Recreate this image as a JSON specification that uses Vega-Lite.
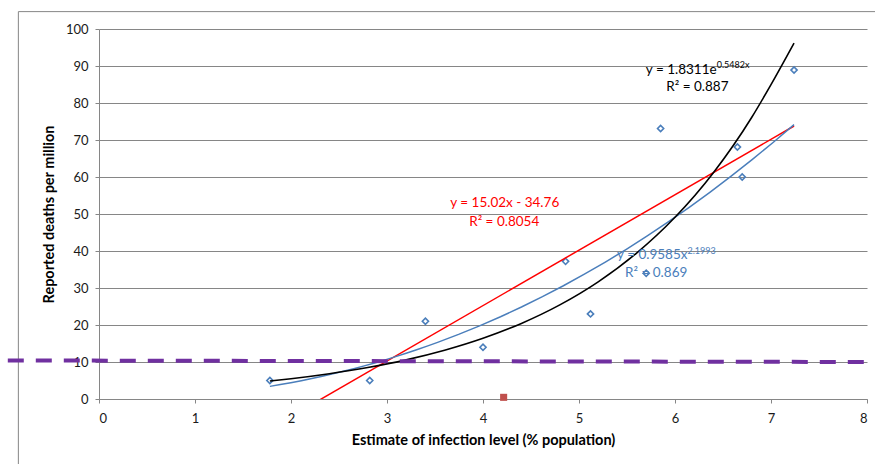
{
  "$schema": "https://vega.github.io/schema/vega-lite/v6.json",
  "width": 768,
  "height": 370,
  "autosize": {"type": "none"},
  "padding": {"left": 99, "top": 29, "right": 8, "bottom": 65},
  "background": "white",
  "config": {
    "view": {"stroke": null},
    "font": "Lato",
    "axis": {
      "labelFont": "Lato",
      "labelFontSize": 13,
      "labelColor": "#1a1a1a",
      "titleFont": "Lato",
      "titleFontSize": 14.5,
      "titleFontWeight": "bold",
      "titleColor": "#000000",
      "domainColor": "#868686",
      "tickColor": "#868686",
      "gridColor": "#868686",
      "tickSize": 4
    }
  },
  "datasets": {
    "obs": [
      {"x": 1.78, "y": 5},
      {"x": 2.82, "y": 5},
      {"x": 3.4, "y": 21},
      {"x": 4.0, "y": 14},
      {"x": 4.86, "y": 37.2},
      {"x": 5.12, "y": 23},
      {"x": 5.7, "y": 34},
      {"x": 5.85, "y": 73.1},
      {"x": 6.65, "y": 68.1},
      {"x": 6.7, "y": 60},
      {"x": 7.24, "y": 88.9}
    ],
    "marker": [{"x": 4.215, "y": 0.45}],
    "expcurve": [
      {"x": 1.78, "y": 4.86},
      {"x": 2.0, "y": 5.48},
      {"x": 2.4, "y": 6.83},
      {"x": 2.8, "y": 8.5},
      {"x": 3.2, "y": 10.58},
      {"x": 3.6, "y": 13.18},
      {"x": 4.0, "y": 16.41},
      {"x": 4.4, "y": 20.43},
      {"x": 4.8, "y": 25.44},
      {"x": 5.2, "y": 31.67},
      {"x": 5.6, "y": 39.44},
      {"x": 6.0, "y": 49.11},
      {"x": 6.4, "y": 61.16},
      {"x": 6.8, "y": 76.15},
      {"x": 7.0, "y": 84.98},
      {"x": 7.24, "y": 96.2}
    ],
    "limit": [
      {"x": -0.95, "y": 10.42},
      {"x": 7.975, "y": 10.0}
    ],
    "frame": [
      {"x": -0.84, "x2": 8.3, "y": 104.7, "y2": 104.7},
      {"x": -0.84, "x2": -0.84, "y": 104.7, "y2": -25}
    ],
    "annot": [
      {"role": "center", "series": "linear", "x": 4.226, "y": 53.0, "text": "y = 15.02x - 34.76"},
      {"role": "center", "series": "linear", "x": 4.221, "y": 47.9, "text": "R² = 0.8054"},
      {"role": "center", "series": "exp", "x": 6.233, "y": 84.3, "text": "R² = 0.887"},
      {"role": "center", "series": "pow", "x": 5.804, "y": 34.1, "text": "R² = 0.869"},
      {"role": "right", "series": "exp", "x": 6.434, "y": 88.9, "text": "y = 1.8311e"},
      {"role": "right", "series": "pow", "x": 6.13, "y": 38.98, "text": "y = 0.9585x"},
      {"role": "sup", "series": "exp", "x": 6.434, "y": 90.4, "text": "0.5482x"},
      {"role": "sup", "series": "pow", "x": 6.13, "y": 40.1, "text": "2.1993"}
    ]
  },
  "encoding": {
    "x": {
      "field": "x",
      "type": "quantitative",
      "scale": {"domain": [0, 8], "nice": false, "zero": false},
      "axis": {
        "title": "Estimate of infection level (% population)",
        "values": [0, 1, 2, 3, 4, 5, 6, 7, 8],
        "grid": false,
        "labelPadding": 9,
        "titlePadding": 8
      }
    },
    "y": {
      "field": "y",
      "type": "quantitative",
      "scale": {"domain": [0, 100], "nice": false, "zero": false},
      "axis": {
        "title": "Reported deaths per million",
        "values": [0, 10, 20, 30, 40, 50, 60, 70, 80, 90, 100],
        "grid": true,
        "labelPadding": 7,
        "titlePadding": 9
      }
    }
  },
  "layer": [
    {
      "data": {"name": "frame"},
      "mark": {"type": "rule", "color": "#868686", "strokeWidth": 1, "clip": false},
      "encoding": {
        "x2": {"field": "x2"},
        "y2": {"field": "y2"}
      }
    },
    {
      "data": {"name": "obs"},
      "mark": {"type": "point", "shape": "diamond", "size": 38, "filled": false, "color": "#4A7EBB", "strokeWidth": 1.6, "opacity": 1}
    },
    {
      "data": {"name": "marker"},
      "mark": {"type": "point", "shape": "square", "size": 50, "filled": true, "color": "#C0504D", "opacity": 1}
    },
    {
      "data": {"name": "obs"},
      "transform": [{"regression": "y", "on": "x", "method": "linear", "extent": [1.78, 7.24]}],
      "mark": {"type": "line", "color": "#FF0000", "strokeWidth": 1.5, "clip": true}
    },
    {
      "data": {"name": "obs"},
      "transform": [{"regression": "y", "on": "x", "method": "pow", "extent": [1.78, 7.24]}],
      "mark": {"type": "line", "color": "#4A7EBB", "strokeWidth": 1.5, "clip": true}
    },
    {
      "data": {"name": "expcurve"},
      "mark": {"type": "line", "color": "#000000", "strokeWidth": 1.6, "interpolate": "monotone", "clip": true}
    },
    {
      "data": {"name": "limit"},
      "mark": {"type": "line", "color": "#7030A0", "strokeWidth": 4, "strokeDash": [16, 12], "strokeCap": "butt", "clip": false}
    },
    {
      "data": {"name": "annot"},
      "transform": [{"filter": "datum.role == 'center'"}],
      "mark": {"type": "text", "align": "center", "baseline": "middle", "font": "Lato", "fontSize": 13.5},
      "encoding": {
        "text": {"field": "text"},
        "color": {"field": "series", "type": "nominal", "scale": {"domain": ["exp", "linear", "pow"], "range": ["#000000", "#FF0000", "#4A7EBB"]}, "legend": null}
      }
    },
    {
      "data": {"name": "annot"},
      "transform": [{"filter": "datum.role == 'right'"}],
      "mark": {"type": "text", "align": "right", "baseline": "middle", "font": "Lato", "fontSize": 13.5},
      "encoding": {
        "text": {"field": "text"},
        "color": {"field": "series", "type": "nominal", "scale": {"domain": ["exp", "linear", "pow"], "range": ["#000000", "#FF0000", "#4A7EBB"]}, "legend": null}
      }
    },
    {
      "data": {"name": "annot"},
      "transform": [{"filter": "datum.role == 'sup'"}],
      "mark": {"type": "text", "align": "left", "baseline": "middle", "font": "Lato", "fontSize": 9},
      "encoding": {
        "text": {"field": "text"},
        "color": {"field": "series", "type": "nominal", "scale": {"domain": ["exp", "linear", "pow"], "range": ["#000000", "#FF0000", "#4A7EBB"]}, "legend": null}
      }
    }
  ]
}
